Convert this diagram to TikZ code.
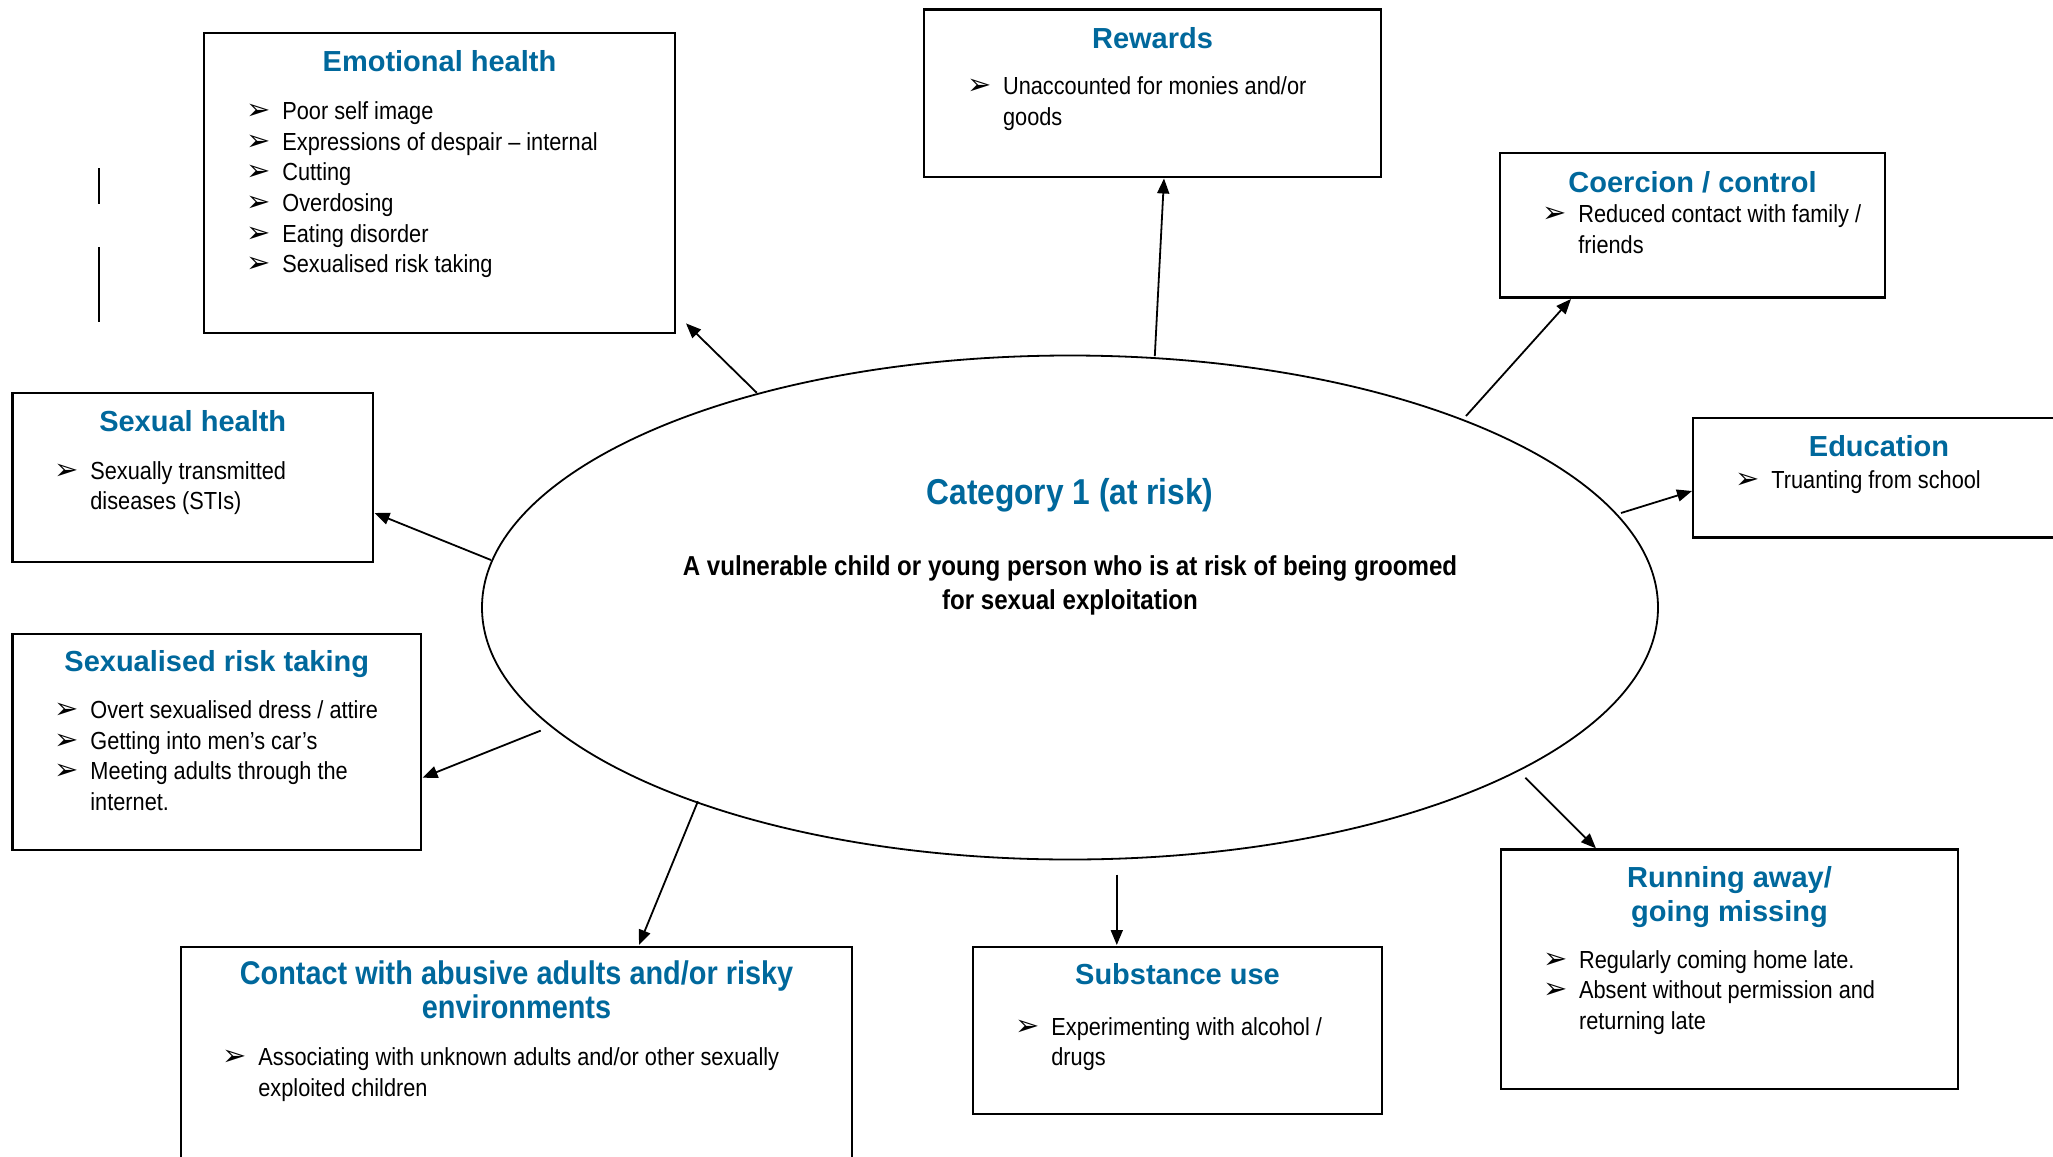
\documentclass[tikz,border=0pt]{standalone}
\usepackage{fontspec}
\setmainfont{Liberation Sans}
\newfontfamily\narrowfont[FakeStretch=0.88]{Liberation Sans}
\newfontfamily\symfont{DejaVu Sans}
\usetikzlibrary{arrows.meta,shapes.geometric,fit}
\definecolor{ttl}{RGB}{0,104,156}
\newcommand{\blt}{\makebox[18pt][l]{\symfont\fontsize{14.5}{16}\selectfont\char"27A2}}
\newcommand{\ind}{\hspace*{18pt}}
\tikzset{
  x=0.5pt, y=-0.5pt,
  boxnode/.style={draw, line width=1.1pt, inner sep=0pt},
  bodytxt/.style={anchor=base west, inner sep=0pt, font=\narrowfont\fontsize{12.35}{15}\selectfont},
  ttltxt/.style={anchor=base, inner sep=0pt, text=ttl, font=\bfseries\fontsize{14.5}{17}\selectfont},
  ttlnarrow/.style={anchor=base, inner sep=0pt, text=ttl, font=\narrowfont\bfseries\fontsize{16.4}{18}\selectfont},
  centtxt/.style={anchor=base, inner sep=0pt, font=\narrowfont\bfseries\fontsize{13.7}{17}\selectfont},
  arr/.style={-{Triangle[length=7.5pt,width=6pt]}, line width=0.9pt},
}
\begin{document}
\begin{tikzpicture}
\useasboundingbox (0,0) rectangle (2053,1157);
\fill[white] (0,0) rectangle (2053,1157);

% central ellipse
\node[draw, ellipse, line width=0.9pt, minimum width=588pt, minimum height=252pt, inner sep=0pt] (ell) at (1070,607.5) {};
\node[ttlnarrow, font=\narrowfont\bfseries\fontsize{18}{20}\selectfont] (cattl) at (1070,504) {Category 1 (at risk)};
\node[centtxt] (cat1) at (1070,575.6) {A vulnerable child or young person who is at risk of being groomed};
\node[centtxt] (cat2) at (1070,609.7) {for sexual exploitation};

% Emotional health
\node[boxnode, fit={(204,33) (675,333)}] (emo) {};
\node[ttltxt] (emot) at (439.5,71.7) {Emotional health};
\node[bodytxt] (emo1) at (246,119.3) {\blt Poor self image};
\node[bodytxt] (emo2) at (246,150) {\blt Expressions of despair – internal};
\node[bodytxt] (emo3) at (246,180.7) {\blt Cutting};
\node[bodytxt] (emo4) at (246,211.4) {\blt Overdosing};
\node[bodytxt] (emo5) at (246,242.1) {\blt Eating disorder};
\node[bodytxt] (emo6) at (246,272.8) {\blt Sexualised risk taking};

% left stray lines
\coordinate (l1a) at (99,168.3); \coordinate (l1b) at (99,204.3);
\coordinate (l2a) at (99,247.3); \coordinate (l2b) at (99,321.7);
\draw[line width=1pt] (l1a) -- (l1b);
\draw[line width=1pt] (l2a) -- (l2b);

% Rewards
\node[boxnode, fit={(924,9.5) (1381,177)}] (rew) {};
\node[ttltxt] (rewt) at (1152.5,48.3) {Rewards};
\node[bodytxt] (rew1) at (966.7,94.3) {\blt Unaccounted for monies and/or};
\node[bodytxt] (rew1b) at (966.7,125) {\ind goods};

% Coercion
\node[boxnode, fit={(1500,153) (1885,297.5)}] (coe) {};
\node[ttltxt] (coet) at (1692.5,192) {Coercion / control};
\node[bodytxt] (coe1) at (1542,222.4) {\blt Reduced contact with family /};
\node[bodytxt] (coe1b) at (1542,253.4) {\ind friends};

% Education
\node[boxnode, fit={(1693,417.7) (2065,537.5)}] (edu) {};
\node[ttltxt] (edut) at (1879,456.5) {Education};
\node[bodytxt] (edu1) at (1735,488) {\blt Truanting from school};

% Sexual health
\node[boxnode, fit={(12.5,393) (373,562)}] (sxh) {};
\node[ttltxt] (sxht) at (192.75,431.7) {Sexual health};
\node[bodytxt] (sxh1) at (54,479) {\blt Sexually transmitted};
\node[bodytxt] (sxh1b) at (54,509.5) {\ind diseases (STIs)};

% Sexualised risk taking
\node[boxnode, fit={(12.5,634) (421,850)}] (srt) {};
\node[ttltxt] (srtt) at (216.75,671.7) {Sexualised risk taking};
\node[bodytxt] (srt1) at (54,718.3) {\blt Overt sexualised dress / attire};
\node[bodytxt] (srt2) at (54,749) {\blt Getting into men’s car’s};
\node[bodytxt] (srt3) at (54,779.7) {\blt Meeting adults through the};
\node[bodytxt] (srt3b) at (54,810.4) {\ind internet.};

% Contact with abusive adults
\node[boxnode, fit={(180.7,946.6) (852,1175)}] (con) {};
\node[ttlnarrow] (cont1) at (516.5,984) {Contact with abusive adults and/or risky};
\node[ttlnarrow] (cont2) at (516.5,1018) {environments};
\node[bodytxt] (con1) at (222,1065.6) {\blt Associating with unknown adults and/or other sexually};
\node[bodytxt] (con1b) at (222,1096.3) {\ind exploited children};

% Substance use
\node[boxnode, fit={(973,946.6) (1382,1114)}] (sub) {};
\node[ttltxt] (subt) at (1177.5,984) {Substance use};
\node[bodytxt] (sub1) at (1015,1035) {\blt Experimenting with alcohol /};
\node[bodytxt] (sub1b) at (1015,1065.7) {\ind drugs};

% Running away
\node[boxnode, fit={(1501,849.5) (1958,1089)}] (run) {};
\node[ttltxt] (runt1) at (1729.5,887) {Running away/};
\node[ttltxt] (runt2) at (1729.5,921.5) {going missing};
\node[bodytxt] (run1) at (1542.7,968) {\blt Regularly coming home late.};
\node[bodytxt] (run2) at (1542.7,998.7) {\blt Absent without permission and};
\node[bodytxt] (run2b) at (1542.7,1029.4) {\ind returning late};

% arrow end points
\coordinate (aemo1) at (756.8,392.8); \coordinate (aemo2) at (686,323.4);
\coordinate (arew1) at (1154.8,356.1); \coordinate (arew2) at (1164,178.5);
\coordinate (acoe1) at (1466,416); \coordinate (acoe2) at (1571,299);
\coordinate (aedu1) at (1621,513); \coordinate (aedu2) at (1692,491);
\coordinate (asxh1) at (491,560); \coordinate (asxh2) at (374.5,513);
\coordinate (asrt1) at (540.7,730.6); \coordinate (asrt2) at (422.5,777.7);
\coordinate (acon1) at (697.9,801.3); \coordinate (acon2) at (639,945);
\coordinate (asub1) at (1116.8,874.6); \coordinate (asub2) at (1116.8,945);
\coordinate (arun1) at (1525.3,777.7); \coordinate (arun2) at (1596,848.4);

\draw[arr] (aemo1) -- (aemo2);
\draw[arr] (arew1) -- (arew2);
\draw[arr] (acoe1) -- (acoe2);
\draw[arr] (aedu1) -- (aedu2);
\draw[arr] (asxh1) -- (asxh2);
\draw[arr] (asrt1) -- (asrt2);
\draw[arr] (acon1) -- (acon2);
\draw[arr] (asub1) -- (asub2);
\draw[arr] (arun1) -- (arun2);
\end{tikzpicture}
\end{document}
